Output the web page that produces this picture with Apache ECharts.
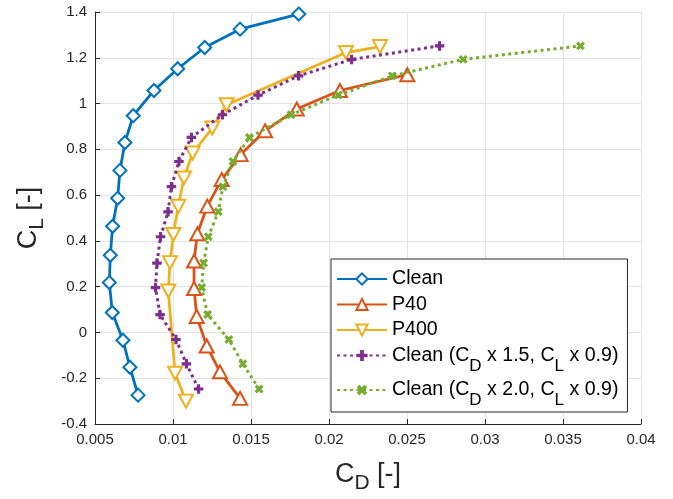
<!DOCTYPE html>
<html>
<head>
<meta charset="utf-8">
<script src="https://cdn.jsdelivr.net/npm/echarts@6/dist/echarts.min.js"></script>
<style>
html,body{margin:0;padding:0;background:#fff;}
#chart{width:673px;height:499px;}
</style>
</head>
<body>
<div id="chart"></div>
<script>
// ---- data ----
const cleanCD = [0.00776, 0.00724, 0.00679, 0.00611, 0.00592, 0.00598, 0.00613, 0.00645, 0.00660, 0.00692, 0.00745, 0.00878, 0.01030, 0.01203, 0.01430, 0.01806];
const cleanCL = [-0.274, -0.152, -0.034, 0.087, 0.218, 0.337, 0.464, 0.586, 0.708, 0.830, 0.947, 1.057, 1.152, 1.245, 1.325, 1.391];

const p40CD = [0.01430, 0.01301, 0.01216, 0.01152, 0.01135, 0.01135, 0.01156, 0.01220, 0.01312, 0.01434, 0.01590, 0.01793, 0.02070, 0.02502];
const p40CL = [-0.288, -0.172, -0.059, 0.070, 0.192, 0.312, 0.431, 0.552, 0.668, 0.777, 0.881, 0.976, 1.057, 1.126];

const p400CD = [0.01083, 0.01013, 0.00970, 0.00981, 0.01002, 0.01034, 0.01070, 0.01126, 0.01252, 0.01344, 0.02109, 0.02327];
const p400CL = [-0.300, -0.178, 0.181, 0.305, 0.428, 0.551, 0.675, 0.784, 0.893, 0.995, 1.223, 1.249];

const c15CD = [0.01164, 0.01086, 0.01019, 0.00917, 0.00888, 0.00897, 0.00920, 0.00968, 0.00990, 0.01038, 0.01118, 0.01317, 0.01545, 0.01805, 0.02145, 0.02709];
const c15CL = [-0.247, -0.137, -0.031, 0.078, 0.196, 0.303, 0.418, 0.527, 0.637, 0.747, 0.852, 0.951, 1.037, 1.121, 1.193, 1.252];

const c20CD = [0.01552, 0.01448, 0.01358, 0.01222, 0.01184, 0.01196, 0.01226, 0.01290, 0.01320, 0.01384, 0.01490, 0.01756, 0.02060, 0.02406, 0.02860, 0.03612];
const c20CL = [-0.247, -0.137, -0.031, 0.078, 0.196, 0.303, 0.418, 0.527, 0.637, 0.747, 0.852, 0.951, 1.037, 1.121, 1.193, 1.252];

const seriesNames = ['Clean', 'P40', 'P400', 'Clean (C_D x 1.5, C_L x 0.9)', 'Clean (C_D x 2.0, C_L x 0.9)'];
const xTicks = {min: 0.005, max: 0.04, step: 0.005};
const yTicks = {min: -0.4, max: 1.4, step: 0.2};

// ---- chart ----
const FONT = 'Liberation Sans, Arial, Helvetica, sans-serif';
const colors = ['#0072BD', '#D95319', '#EDB120', '#7E2F8E', '#77AC30'];
const PLUS = 'path://M3,0H6V3H9V6H6V9H3V6H0V3H3Z';
const zip = (xs, ys) => xs.map((x, i) => [x, ys[i]]);

function legendText(name) {
  if (name.indexOf('_D') >= 0) {
    return name.replace(/^(.*?)_D(.*?)_L(.*)$/, '{n|$1}{s|D}{n|$2}{s|L}{n|$3}');
  }
  return '{m|' + name + '}';
}

const chart = echarts.init(document.getElementById('chart'), null, {renderer: 'canvas'});

function solid(i, data, symbol, size, rotate) {
  return {
    name: seriesNames[i], type: 'line', data: data,
    symbol: symbol, symbolSize: size, symbolRotate: rotate || 0,
    showAllSymbol: true,
    lineStyle: {color: colors[i], width: 2.8},
    itemStyle: {color: '#ffffff', borderColor: colors[i], borderWidth: 2},
    emphasis: {disabled: true}, animation: false, z: 2 + i
  };
}
function dotted(i, data, rotate) {
  return {
    name: seriesNames[i], type: 'line', data: data,
    symbol: PLUS, symbolSize: 9.5, symbolRotate: rotate,
    showAllSymbol: true,
    lineStyle: {color: colors[i], width: 3, type: [3, 3.5], cap: 'butt'},
    itemStyle: {color: colors[i], borderWidth: 0},
    emphasis: {disabled: true}, animation: false, z: 2 + i
  };
}

const option = {
  backgroundColor: '#ffffff',
  animation: false,
  textStyle: {fontFamily: FONT},
  grid: {left: 95, top: 12, width: 546, height: 413, containLabel: false},
  xAxis: {
    type: 'value', min: xTicks.min, max: xTicks.max, interval: xTicks.step,
    name: '{n|C}{s|D}{n| [-]}', nameLocation: 'middle', nameGap: 31,
    nameTextStyle: {color: '#262626', rich: {
      n: {fontFamily: FONT, fontSize: 27, color: '#262626'},
      s: {fontFamily: FONT, fontSize: 21, color: '#262626', padding: [18, 0, 0, 0]}
    }},
    axisLine: {show: true, onZero: false, lineStyle: {color: '#262626', width: 1}},
    axisTick: {show: true, inside: true, length: 5, lineStyle: {color: '#262626'}},
    axisLabel: {color: '#262626', fontSize: 15, fontFamily: FONT, margin: 8,
      formatter: v => String(+v.toFixed(4))},
    splitLine: {show: true, lineStyle: {color: '#e3e3e3', width: 1}}
  },
  yAxis: {
    type: 'value', min: yTicks.min, max: yTicks.max, interval: yTicks.step,
    name: '{n|C}{s|L}{n| [-]}', nameLocation: 'middle', nameGap: 47, nameRotate: 90,
    nameTextStyle: {color: '#262626', rich: {
      n: {fontFamily: FONT, fontSize: 27, color: '#262626'},
      s: {fontFamily: FONT, fontSize: 21, color: '#262626', padding: [18, 0, 0, 0]}
    }},
    axisLine: {show: true, onZero: false, lineStyle: {color: '#262626', width: 1}},
    axisTick: {show: true, inside: true, length: 5, lineStyle: {color: '#262626'}},
    axisLabel: {color: '#262626', fontSize: 15, fontFamily: FONT, margin: 8,
      formatter: v => String(+v.toFixed(3))},
    splitLine: {show: true, lineStyle: {color: '#e3e3e3', width: 1}}
  },
  legend: {
    orient: 'vertical', left: 331, top: 259,
    itemWidth: 50, itemHeight: 14, itemGap: 5.5,
    padding: [10, 9, 3, 5],
    backgroundColor: '#ffffff', borderColor: '#262626', borderWidth: 1,
    selectedMode: false,
    data: seriesNames,
    formatter: legendText,
    textStyle: {color: '#000', fontFamily: FONT, fontSize: 19.6, rich: {
      m: {fontFamily: FONT, fontSize: 19.6, color: '#000'},
      n: {fontFamily: FONT, fontSize: 19.6, color: '#000'},
      s: {fontFamily: FONT, fontSize: 17, color: '#000', padding: [21, 0, 0, 0]}
    }}
  },
  series: [
    solid(0, zip(cleanCD, cleanCL), 'diamond', 13),
    solid(1, zip(p40CD, p40CL), 'triangle', [14, 13]),
    solid(2, zip(p400CD, p400CL), 'triangle', [14, 13], 180),
    dotted(3, zip(c15CD, c15CL), 0),
    dotted(4, zip(c20CD, c20CL), 45)
  ]
};
chart.setOption(option);
</script>
</body>
</html>
